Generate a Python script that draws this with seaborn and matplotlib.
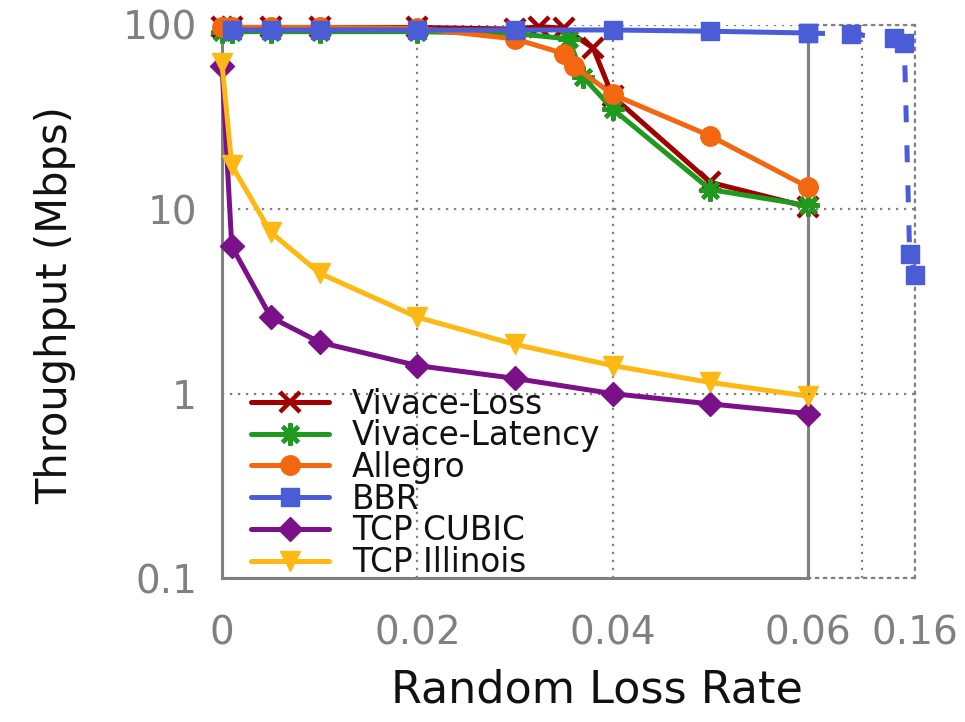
import matplotlib
matplotlib.use("Agg")
import matplotlib.pyplot as plt
import seaborn as sns
import numpy as np
import pandas as pd
from matplotlib.ticker import FixedLocator, NullFormatter, NullLocator, LogLocator

# ---------------- data ----------------
vloss_x = [0, 0.001, 0.005, 0.01, 0.02, 0.03, 0.0325, 0.035, 0.038, 0.04, 0.05, 0.06]
vloss_y = [97, 97, 97, 97, 97, 95, 98, 96, 75, 41, 14, 10.3]

vlat_x = [0, 0.001, 0.005, 0.01, 0.02, 0.03, 0.0355, 0.037, 0.04, 0.05, 0.06]
vlat_y = [92, 92, 92, 92, 92, 90, 84, 52, 35, 12.8, 10.5]

allegro_x = [0, 0.001, 0.005, 0.01, 0.02, 0.03, 0.035, 0.036, 0.04, 0.05, 0.06]
allegro_y = [97, 97, 97, 97, 96, 84, 70, 60, 42, 25, 13.2]

bbr_x = [0.001, 0.005, 0.01, 0.02, 0.03, 0.04, 0.05, 0.06]
bbr_y = [94, 94, 94, 94, 94, 94, 92.5, 90.5]
bbr_tail_x = [0.06, 0.10, 0.14, 0.15, 0.155, 0.16]
bbr_tail_y = [90.5, 89, 85, 80, 5.7, 4.4]

cubic_x = [0, 0.001, 0.005, 0.01, 0.02, 0.03, 0.04, 0.05, 0.06]
cubic_y = [60, 6.3, 2.6, 1.9, 1.42, 1.21, 1.0, 0.88, 0.78]

illinois_x = [0, 0.001, 0.005, 0.01, 0.02, 0.03, 0.04, 0.05, 0.06]
illinois_y = [62, 17.3, 7.5, 4.5, 2.6, 1.85, 1.42, 1.15, 0.97]

x_ticks = [0, 0.02, 0.04, 0.06]
x_ticklabels = ["0", "0.02", "0.04", "0.06"]
x2_ticks = [0.11, 0.16]
x2_ticklabels = ["", "0.16"]
y_ticks = [0.1, 1, 10, 100]
y_ticklabels = ["0.1", "1", "10", "100"]

# ---------------- style ----------------
sns.set_style("white")
plt.rcParams["font.family"] = ["DejaVu Sans"]
GRAY = "#808080"
DOT = (0, (1, 2.6))

W, H = 965, 722
fig = plt.figure(figsize=(W / 100, H / 100), dpi=100)
L, R, T, B = 222, 808, 25, 578
R2 = 915
ax = fig.add_axes([L / W, 1 - B / H, (R - L) / W, (B - T) / H])
ax2 = fig.add_axes([R / W, 1 - B / H, (R2 - R) / W, (B - T) / H])

LW = 3.6
series = [
    ("Vivace-Loss", vloss_x, vloss_y, "#a00000", "x", 14, 3.2),
    ("Vivace-Latency", vlat_x, vlat_y, "#1e9a1e", (8, 2, 0), 16, 3.0),
    ("Allegro", allegro_x, allegro_y, "#f2670f", "o", 14, 1),
    ("BBR", bbr_x, bbr_y, "#4a5cd6", "s", 13, 1),
    ("TCP CUBIC", cubic_x, cubic_y, "#7a1189", "D", 12, 1),
    ("TCP Illinois", illinois_x, illinois_y, "#fdb813", "v", 15, 1),
]

handles = []
for name, xs, ys, col, mk, ms, mew in series:
    df = pd.DataFrame({"x": xs, "y": ys})
    sns.lineplot(data=df, x="x", y="y", ax=ax, color=col, marker=mk,
                 markersize=ms, markeredgewidth=mew, markeredgecolor=col,
                 markerfacecolor=col, linewidth=LW, estimator=None,
                 sort=False, clip_on=False, zorder=5, label=name, legend=False)
    handles.append(ax.lines[-1])
    if name == "BBR":
        dft = pd.DataFrame({"x": bbr_tail_x, "y": bbr_tail_y})
        sns.lineplot(data=dft, x="x", y="y", ax=ax2, color=col, marker="s",
                     markersize=ms, markeredgewidth=1, markeredgecolor=col,
                     markerfacecolor=col, linewidth=LW, estimator=None,
                     sort=False, clip_on=False, zorder=5, legend=False)
        ax2.lines[-1].set_linestyle((0, (3.4, 4.6)))

# ---------------- main axes ----------------
ax.set_yscale("log")
ax.set_ylim(0.1, 100)
ax.set_xlim(0, 0.06)
ax.set_xlabel("")
ax.set_ylabel("")
ax.xaxis.set_major_locator(FixedLocator(x_ticks))
ax.set_xticklabels(x_ticklabels)
ax.yaxis.set_major_locator(FixedLocator(y_ticks))
ax.set_yticklabels(y_ticklabels)
ax.yaxis.set_minor_locator(LogLocator(base=10, subs=np.arange(2, 10)))
ax.yaxis.set_minor_formatter(NullFormatter())
ax.tick_params(axis="both", which="major", direction="in", length=14, width=1.6,
               color=GRAY, labelcolor=GRAY, labelsize=28)
ax.tick_params(axis="x", pad=26)
ax.tick_params(axis="y", pad=18)
ax.tick_params(axis="y", which="minor", direction="in", length=9, width=1.6, color=GRAY)
ax.tick_params(top=False, right=False, which="both")
ax.grid(True, which="major", color=GRAY, linestyle=DOT, linewidth=1.6)
ax.grid(False, which="minor")
for s in ["left", "bottom", "right"]:
    ax.spines[s].set_color(GRAY)
    ax.spines[s].set_linewidth(2.2)
    ax.spines[s].set_visible(True)
ax.spines["top"].set_visible(False)
ax.set_facecolor("none")

# ---------------- broken-axis tail ----------------
ax2.set_yscale("log")
ax2.set_ylim(0.1, 100)
ax2.set_xlim(0.06, 0.16)
ax2.set_xlabel("")
ax2.set_ylabel("")
ax2.yaxis.set_major_locator(FixedLocator(y_ticks))
ax2.yaxis.set_minor_locator(NullLocator())
ax2.xaxis.set_major_locator(FixedLocator(x2_ticks))
ax2.set_xticklabels(x2_ticklabels)
ax2.tick_params(axis="y", left=False, right=False, labelleft=False, length=0)
ax2.tick_params(axis="x", direction="in", length=0, labelcolor=GRAY,
                labelsize=28, pad=26)
ax2.grid(True, which="major", color=GRAY, linestyle=DOT, linewidth=1.6)
ax2.spines["left"].set_visible(False)
for s in ["top", "right", "bottom"]:
    ax2.spines[s].set_visible(True)
    ax2.spines[s].set_color(GRAY)
    ax2.spines[s].set_linestyle(DOT)
    ax2.spines[s].set_linewidth(1.6)
ax2.set_facecolor("none")

# ---------------- legend ----------------
leg = ax.legend(handles=handles, labels=[s[0] for s in series],
                loc="lower left", bbox_to_anchor=(251 / W, 1 - 579 / H),
                bbox_transform=fig.transFigure, frameon=False,
                fontsize=23.5, labelspacing=-0.04, handlelength=2.4,
                handletextpad=0.7, borderpad=0, borderaxespad=0)
for t in leg.get_texts():
    t.set_color("#111111")

# ---------------- axis titles ----------------
fig.text(597 / W, 1 - 690 / H, "Random Loss Rate", ha="center", va="center",
         fontsize=32, color="#111111")
fig.text(55 / W, 1 - 305 / H, "Throughput (Mbps)", ha="center", va="center",
         rotation=90, fontsize=30, color="#111111")

fig.savefig("out.png", dpi=100, facecolor="white")
